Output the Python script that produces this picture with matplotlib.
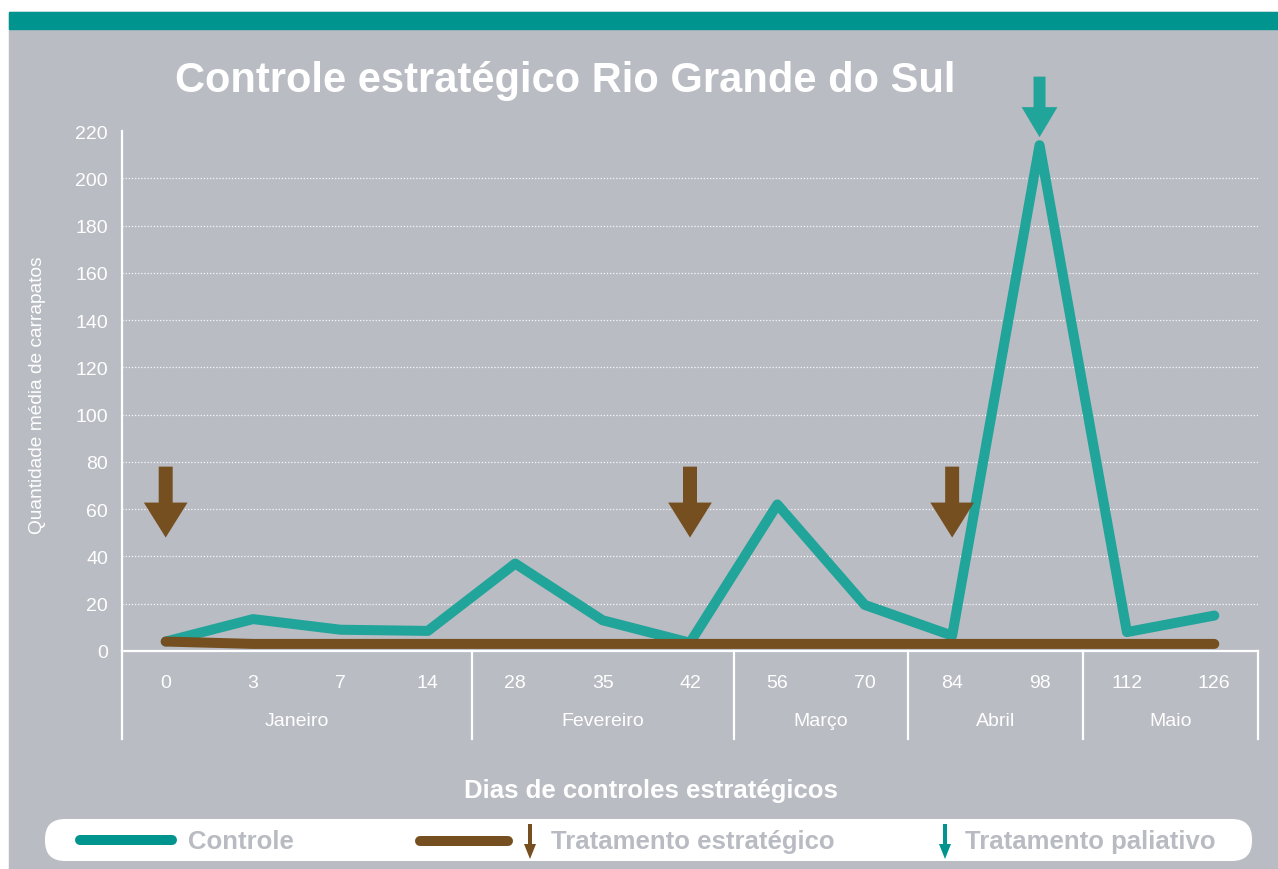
import matplotlib
matplotlib.use("Agg")
import matplotlib.pyplot as plt
from matplotlib.patches import Rectangle, FancyBboxPatch, FancyArrow
from matplotlib.lines import Line2D
import matplotlib.transforms as mtransforms

plt.rcParams['font.family'] = ['Liberation Sans', 'DejaVu Sans']

# data
dias = ["0", "3", "7", "14", "28", "35", "42", "56", "70", "84", "98", "112", "126"]
meses = ["Janeiro", "Fevereiro", "Março", "Abril", "Maio"]
mes_inicio = [0, 4, 7, 9, 11]          # first category index of each month
controle = [4, 13.5, 9, 8.5, 37, 13, 3.5, 62, 19.5, 6.5, 214, 8, 15]
estrategico = [4, 3, 3, 3, 3, 3, 3, 3, 3, 3, 3, 3, 3]
trat_estrategico = [0, 6, 9]          # where brown arrows sit
trat_paliativo = [10]                 # where teal arrow sits

teal_band = "#00948f"
teal = "#21a49a"
brown = "#754f1f"
bg = "#b9bcc3"
W, H = 1278, 870

fig = plt.figure(figsize=(W / 100, H / 100), dpi=100)
fig.patch.set_facecolor("white")
pix = mtransforms.IdentityTransform()


def fy(y):
    return H - y


# gray panel + teal band on top
fig.add_artist(Rectangle((9, 0), W - 9, fy(13), transform=pix, color=bg, zorder=0))
fig.add_artist(Rectangle((9, fy(30)), W - 9, 17, transform=pix, color=teal_band, zorder=0))

ax = fig.add_axes([122 / W, 1 - 652 / H, (1258 - 122) / W, (652 - 132) / H])
ax.set_facecolor("none")
x = list(range(len(dias)))

ax.plot(x, controle, color=teal, lw=7.2, solid_capstyle="round", solid_joinstyle="round", zorder=3)
ax.plot(x, estrategico, color=brown, lw=7.2, solid_capstyle="round", solid_joinstyle="round", zorder=4)

for i in trat_estrategico:
    ax.add_patch(FancyArrow(i, 78, 0, -30, width=0.16, head_width=0.5, head_length=14.8,
                            length_includes_head=True, color=brown, lw=0, zorder=5, clip_on=False))
for i in trat_paliativo:
    ax.add_patch(FancyArrow(i, 243, 0, -25.6, width=0.137, head_width=0.41, head_length=12.7,
                            length_includes_head=True, color=teal, lw=0, zorder=5, clip_on=False))

ax.set_xlim(-0.5, len(dias) - 0.5)
ax.set_ylim(0, 220)
ax.set_yticks(range(0, 221, 20))
ax.tick_params(axis="y", length=0, pad=10, labelcolor="white", labelsize=14)
ax.set_xticks([])
for s in ["top", "right"]:
    ax.spines[s].set_visible(False)
for s in ["left", "bottom"]:
    ax.spines[s].set_color("white")
    ax.spines[s].set_linewidth(1.6)

for v in range(20, 201, 20):
    ax.axhline(v, color="white", lw=0.9, ls=(0, (1, 1.5)), alpha=0.9, zorder=1)

trans = mtransforms.blended_transform_factory(ax.transData, ax.transAxes)
for i, d in enumerate(dias):
    ax.text(i, -31 / 520, d, transform=trans, ha="center", va="center", color="white", fontsize=14)

bounds = mes_inicio + [len(dias)]
for k, m in enumerate(meses):
    a, b = bounds[k], bounds[k + 1]
    ax.text((a + b - 1) / 2, -70 / 520, m, transform=trans, ha="center", va="center",
            color="white", fontsize=14)
for b in bounds:
    ax.plot([b - 0.5, b - 0.5], [0, -88 / 520], transform=trans, color="white", lw=1.6,
            clip_on=False, zorder=2)

# texts
fig.text(175 / W, 1 - 81 / H, "Controle estratégico Rio Grande do Sul", color="white",
         fontsize=30, fontweight="bold", ha="left", va="center")
fig.text(38 / W, 1 - 395 / H, "Quantidade média de carrapatos", color="white", fontsize=13.8,
         rotation=90, ha="center", va="center")
fig.text(651 / W, 1 - 791 / H, "Dias de controles estratégicos", color="white", fontsize=18.5,
         fontweight="bold", ha="center", va="center")

# legend
fig.add_artist(FancyBboxPatch((45, fy(862)), 1252 - 45, 42, transform=pix,
                              boxstyle="round,pad=0,rounding_size=20", fc="white", ec="none", zorder=1))
fig.add_artist(Line2D([80, 172], [fy(841), fy(841)], transform=pix, color=teal_band, lw=7.2,
                      solid_capstyle="round", zorder=2))
fig.add_artist(Line2D([420, 508], [fy(842), fy(842)], transform=pix, color=brown, lw=7.2,
                      solid_capstyle="round", zorder=2))
fig.add_artist(FancyArrow(530, fy(825), 0, -35, width=4, head_width=12, head_length=15,
                          length_includes_head=True, transform=pix, color=brown, lw=0, zorder=2))
fig.add_artist(FancyArrow(945, fy(825), 0, -35, width=4, head_width=12, head_length=15,
                          length_includes_head=True, transform=pix, color=teal_band, lw=0, zorder=2))
leg_color = "#b8bbc2"
for xp, t in [(188, "Controle"), (551, "Tratamento estratégico"), (965, "Tratamento paliativo")]:
    fig.text(xp / W, 1 - 842 / H, t, color=leg_color, fontsize=18.5, fontweight="bold",
             ha="left", va="center", zorder=3)

fig.savefig("out.png", dpi=100)
